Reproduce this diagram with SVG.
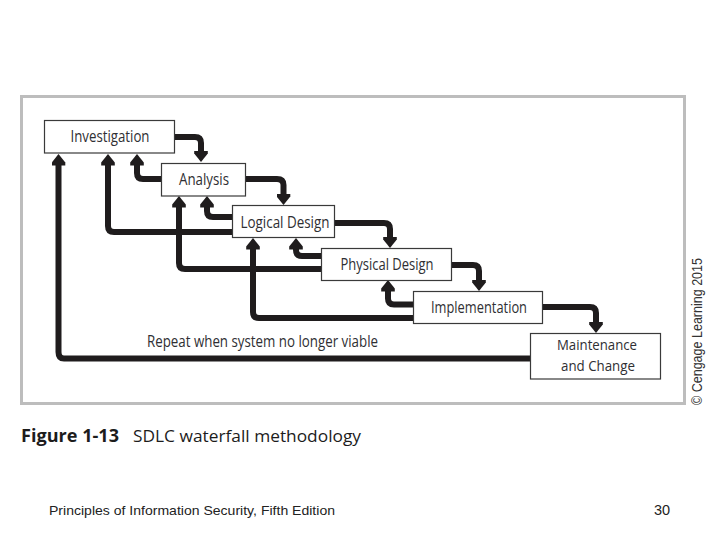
<svg xmlns="http://www.w3.org/2000/svg" width="720" height="540" viewBox="0 0 720 540">
<style>
text{font-family:"Open Sans","Noto Sans","Liberation Sans",sans-serif;fill:#2f2f33}
.n text{font-size:17px;text-anchor:middle}
.n rect{fill:#fff;stroke:#3a3a3a;stroke-width:1.2}
#connectors path{fill:none;stroke:#1f1c1d;stroke-width:6;marker-end:url(#a)}
.foot{font-family:"Liberation Sans",Arial,sans-serif;font-size:13.500px;fill:#222}
</style>
<defs>
<marker id="a" markerUnits="userSpaceOnUse" markerWidth="13" markerHeight="14" refX="0.5" refY="7" orient="auto" viewBox="0 0 13 14"><path d="M0 .2L3 .2L11.500 7L3 13.800L0 13.800Z" fill="#1f1c1d"/></marker>
</defs>
<rect width="720" height="540" fill="#fff"/>
<rect x="21.500" y="96.500" width="663" height="307" fill="#fff" stroke="#bdbdbd" stroke-width="3"/>
<g id="connectors">
<path d="M175 137H195Q201 137 201 143V151"/>
<path d="M245 179H277Q283.500 179 283.500 185V194"/>
<path d="M334 223H384Q390 223 390 229V237"/>
<path d="M451 265H473Q479 265 479 271V280"/>
<path d="M542 307H590Q596 307 596 313V322"/>
<path d="M162 179H143Q137 179 137 173V165"/>
<path d="M233 217H213Q207 217 207 211V207"/>
<path d="M233 232H114Q108 232 108 226V165"/>
<path d="M322 256H302Q296 256 296 250V249"/>
<path d="M322 269H185Q179 269 179 263V207"/>
<path d="M414 304.500H394Q388 304.500 388 298.500V291"/>
<path d="M414 318H259Q253 318 253 312V249"/>
<path d="M531 358.500H64Q58.500 358.500 58.500 352V165"/>
</g>
<g id="investigation" class="n"><rect x="44.500" y="120.500" width="130" height="32.500"/><text x="110" y="142" textLength="79" lengthAdjust="spacingAndGlyphs">Investigation</text></g>
<g id="analysis" class="n"><rect x="161.500" y="163.500" width="84" height="32.500"/><text x="204" y="185" textLength="50" lengthAdjust="spacingAndGlyphs">Analysis</text></g>
<g id="logical-design" class="n"><rect x="232.500" y="205.500" width="102" height="32"/><text x="285" y="228" textLength="89" lengthAdjust="spacingAndGlyphs">Logical Design</text></g>
<g id="physical-design" class="n"><rect x="321.500" y="248.500" width="130" height="32"/><text x="387" y="270" textLength="93" lengthAdjust="spacingAndGlyphs">Physical Design</text></g>
<g id="implementation" class="n"><rect x="413.500" y="291.500" width="129" height="32"/><text x="479" y="313" textLength="96" lengthAdjust="spacingAndGlyphs">Implementation</text></g>
<g id="maintenance" class="n"><rect x="530.500" y="333.500" width="130" height="45.500"/><text x="597" y="350" textLength="80" lengthAdjust="spacingAndGlyphs" style="font-size:14.500px">Maintenance</text><text x="598" y="371" textLength="74" lengthAdjust="spacingAndGlyphs" style="font-size:14.500px">and Change</text></g>
<text x="147" y="347" font-size="17" textLength="231" lengthAdjust="spacingAndGlyphs">Repeat when system no longer viable</text>
<text x="21" y="442" font-size="17" font-weight="700" textLength="98" lengthAdjust="spacingAndGlyphs" style="fill:#1c1c1c">Figure 1-13</text>
<text x="133" y="442" font-size="15.500" textLength="228" lengthAdjust="spacingAndGlyphs" style="fill:#1c1c1c">SDLC waterfall methodology</text>
<text transform="translate(702 405) rotate(-90)" font-size="15" textLength="147" lengthAdjust="spacingAndGlyphs" style="font-family:'Liberation Sans',Arial,sans-serif;fill:#333">© Cengage Learning 2015</text>
<text class="foot" x="49" y="515" textLength="286" lengthAdjust="spacingAndGlyphs">Principles of Information Security, Fifth Edition</text>
<text class="foot" x="654" y="515" style="font-size:14.500px">30</text>
</svg>
